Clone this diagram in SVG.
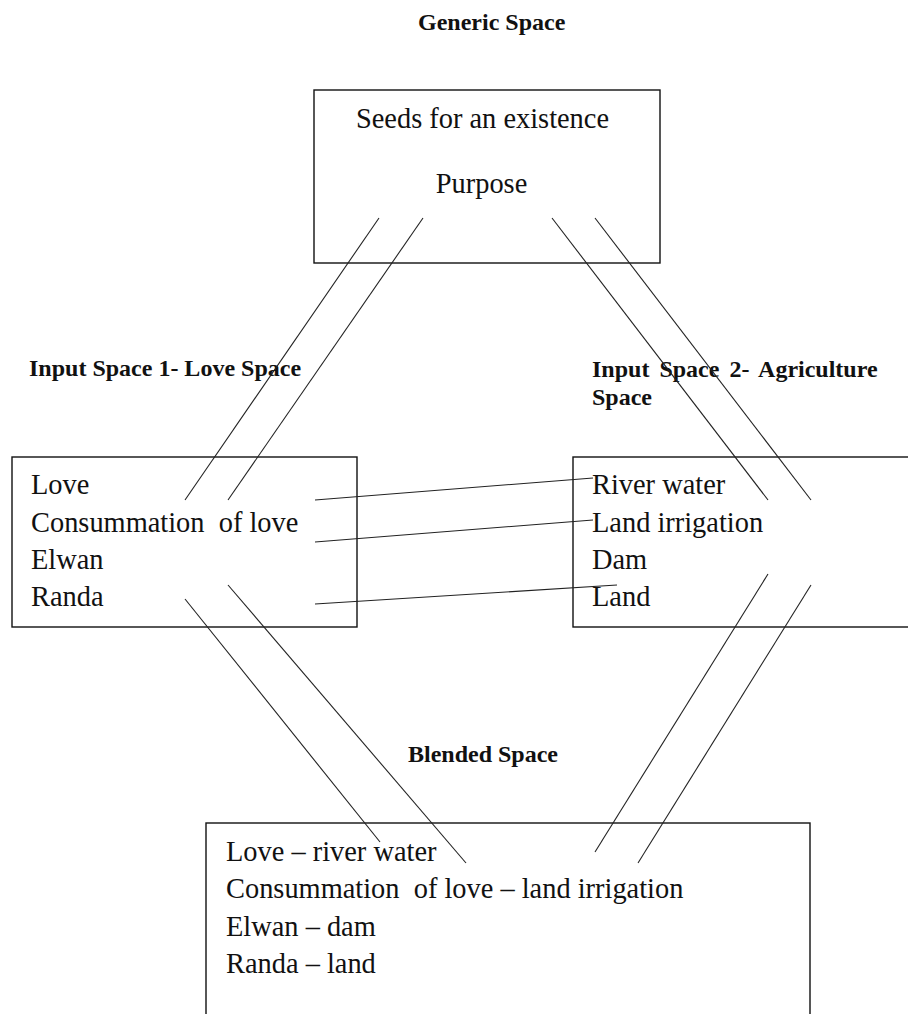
<svg xmlns="http://www.w3.org/2000/svg" width="908" height="1014" viewBox="0 0 908 1014">
  <style>
    .box { fill: none; stroke: #111; stroke-width: 1.4; }
    .item { font-family: "Liberation Serif", "Times New Roman", serif; font-size: 28.4px; fill: #111; white-space: pre; }
    .title { font-family: "Liberation Serif", "Times New Roman", serif; font-size: 24px; font-weight: bold; fill: #111; }
    .link { stroke: #222; stroke-width: 1.1; fill: none; }
  </style>
  <rect x="0" y="0" width="908" height="1014" fill="#fff"/>

  <!-- Section headings -->
  <g id="labels">
    <text class="title" x="418" y="30">Generic Space</text>
    <text class="title" x="29" y="376">Input Space 1- Love Space</text>
    <text class="title" x="592" y="377" word-spacing="4">Input Space 2- Agriculture</text>
    <text class="title" x="592" y="405">Space</text>
    <text class="title" x="408" y="762">Blended Space</text>
  </g>

  <!-- Generic space -->
  <g id="generic">
    <rect class="box" x="314" y="90" width="346" height="173"/>
    <text class="item" x="482.5" y="128" text-anchor="middle">Seeds for an existence</text>
    <text class="item" x="481.5" y="193" text-anchor="middle">Purpose</text>
  </g>

  <!-- Input space 1 -->
  <g id="input1">
    <rect class="box" x="12" y="457" width="345" height="170"/>
    <text class="item" x="31" y="494">Love</text>
    <text class="item" x="31" y="532">Consummation  of love</text>
    <text class="item" x="31" y="569">Elwan</text>
    <text class="item" x="31" y="606">Randa</text>
  </g>

  <!-- Input space 2 (runs past the right edge) -->
  <g id="input2">
    <rect class="box" x="573" y="457" width="360" height="170"/>
    <text class="item" x="592" y="494">River water</text>
    <text class="item" x="592" y="532">Land irrigation</text>
    <text class="item" x="592" y="569">Dam</text>
    <text class="item" x="592" y="606">Land</text>
  </g>

  <!-- Blended space (runs past the bottom edge) -->
  <g id="blended">
    <rect class="box" x="206" y="823" width="604" height="220"/>
    <text class="item" x="226" y="861">Love – river water</text>
    <text class="item" x="226" y="898">Consummation  of love – land irrigation</text>
    <text class="item" x="226" y="936">Elwan – dam</text>
    <text class="item" x="226" y="973">Randa – land</text>
  </g>

  <!-- Projection lines between spaces and cross-space mappings -->
  <g id="connectors">
    <line class="link" x1="379" y1="218" x2="185" y2="500"/>
    <line class="link" x1="423" y1="218" x2="228" y2="500"/>
    <line class="link" x1="552" y1="218" x2="768" y2="500"/>
    <line class="link" x1="595" y1="218" x2="811" y2="500"/>

    <line class="link" x1="315" y1="500" x2="593" y2="478"/>
    <line class="link" x1="315" y1="542" x2="593" y2="520"/>
    <line class="link" x1="315" y1="604" x2="617" y2="585"/>

    <line class="link" x1="185" y1="599" x2="380" y2="842"/>
    <line class="link" x1="228" y1="585" x2="466" y2="863"/>
    <line class="link" x1="768" y1="574" x2="595" y2="852"/>
    <line class="link" x1="811" y1="585" x2="638" y2="863"/>
  </g>
</svg>
